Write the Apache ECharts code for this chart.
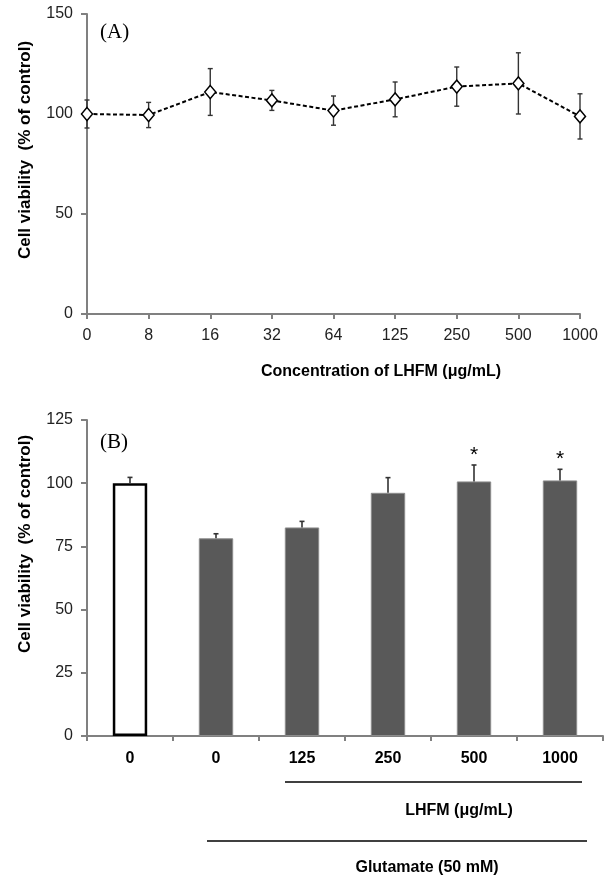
<!DOCTYPE html>
<html>
<head>
<meta charset="utf-8">
<script src="https://cdn.jsdelivr.net/npm/echarts@6/dist/echarts.min.js"></script>
<style>
html,body{margin:0;padding:0;background:#fff;}
#chart{width:611px;height:879px;}
</style>
</head>
<body>
<div id="chart"></div>
<script>
// Panel A data
const concA = ['0', '8', '16', '32', '64', '125', '250', '500', '1000'];
const viabilityA = [100, 99.5, 111, 106.8, 101.7, 107.3, 113.7, 115.3, 98.8];
const errorA = [7, 6.3, 11.7, 5, 7.3, 8.7, 9.8, 15.3, 11.3];
const yTicksA = { min: 0, max: 150, interval: 50 };

// Panel B data
const groupsB = ['0', '0', '125', '250', '500', '1000'];
const viabilityB = [100, 78.2, 82.5, 96.2, 100.7, 101.1];
const errorB = [2.3, 1.8, 2.4, 6, 6.5, 4.4];
const signifB = ['', '', '', '', '*', '*'];
const isControlB = [true, false, false, false, false, false];
const yTicksB = { min: 0, max: 125, interval: 25 };

const FONT = '"Liberation Sans", Arial, sans-serif';
const SERIF = '"Liberation Serif", "Times New Roman", serif';
const AXIS_COLOR = '#808080';

const chart = echarts.init(document.getElementById('chart'), null, { renderer: 'canvas' });

function errBarsA(params, api) {
  const x = api.value(0), v = api.value(1), e = api.value(2);
  const hi = api.coord([x, v + e]);
  const lo = api.coord([x, v - e]);
  const w = 2.5;
  const st = { stroke: '#333', lineWidth: 1.4 };
  return {
    type: 'group',
    children: [
      { type: 'line', shape: { x1: hi[0], y1: hi[1], x2: lo[0], y2: lo[1] }, style: st },
      { type: 'line', shape: { x1: hi[0] - w, y1: hi[1], x2: hi[0] + w, y2: hi[1] }, style: st },
      { type: 'line', shape: { x1: lo[0] - w, y1: lo[1], x2: lo[0] + w, y2: lo[1] }, style: st }
    ]
  };
}

function errBarsB(params, api) {
  const x = api.value(0), v = api.value(1), e = api.value(2);
  const base = api.coord([x, v]);
  const hi = api.coord([x, v + e]);
  const w = 2.5;
  const st = { stroke: '#333', lineWidth: 1.6 };
  const children = [
    { type: 'line', shape: { x1: base[0], y1: base[1], x2: hi[0], y2: hi[1] }, style: st },
    { type: 'line', shape: { x1: hi[0] - w, y1: hi[1], x2: hi[0] + w, y2: hi[1] }, style: st }
  ];
  const s = signifB[params.dataIndex];
  if (s) {
    children.push({
      type: 'text',
      style: {
        text: s, x: hi[0], y: hi[1] - 10,
        align: 'center', verticalAlign: 'middle',
        font: '21px ' + FONT, fill: '#000'
      }
    });
  }
  return { type: 'group', children };
}

const barData = viabilityB.map((v, i) => ({
  value: v,
  itemStyle: isControlB[i]
    ? { color: '#ffffff', borderColor: '#000000', borderWidth: 2.5 }
    : { color: '#595959', borderColor: '#8c8c8c', borderWidth: 1 }
}));

const option = {
  backgroundColor: '#ffffff',
  animation: false,
  grid: [
    { left: 87, right: 31, top: 14, bottom: 565, containLabel: false },
    { left: 87, right: 8, top: 420, bottom: 143, containLabel: false }
  ],
  xAxis: [
    {
      gridIndex: 0, type: 'category', data: concA, boundaryGap: false,
      axisLine: { lineStyle: { color: AXIS_COLOR, width: 2 } },
      axisTick: { show: true, length: 5, lineStyle: { color: AXIS_COLOR, width: 2 } },
      axisLabel: { color: '#222', fontFamily: FONT, fontSize: 16, margin: 14 },
      splitLine: { show: false }
    },
    {
      gridIndex: 1, type: 'category', data: groupsB, boundaryGap: true,
      axisLine: { lineStyle: { color: AXIS_COLOR, width: 2 } },
      axisTick: { show: true, length: 5, alignWithLabel: false, lineStyle: { color: AXIS_COLOR, width: 2 } },
      axisLabel: { color: '#000', fontFamily: FONT, fontSize: 16, fontWeight: 'bold', margin: 15 },
      splitLine: { show: false }
    }
  ],
  yAxis: [
    {
      gridIndex: 0, type: 'value', min: yTicksA.min, max: yTicksA.max, interval: yTicksA.interval,
      axisLine: { show: true, lineStyle: { color: AXIS_COLOR, width: 2 } },
      axisTick: { show: true, length: 6, lineStyle: { color: AXIS_COLOR, width: 2 } },
      axisLabel: { color: '#222', fontFamily: FONT, fontSize: 16, margin: 14 },
      splitLine: { show: false }
    },
    {
      gridIndex: 1, type: 'value', min: yTicksB.min, max: yTicksB.max, interval: yTicksB.interval,
      axisLine: { show: true, lineStyle: { color: AXIS_COLOR, width: 2 } },
      axisTick: { show: true, length: 6, lineStyle: { color: AXIS_COLOR, width: 2 } },
      axisLabel: { color: '#222', fontFamily: FONT, fontSize: 16, margin: 14 },
      splitLine: { show: false }
    }
  ],
  series: [
    {
      type: 'custom', xAxisIndex: 0, yAxisIndex: 0, z: 2,
      renderItem: errBarsA,
      data: viabilityA.map((v, i) => [i, v, errorA[i]])
    },
    {
      type: 'line', xAxisIndex: 0, yAxisIndex: 0, z: 3,
      data: viabilityA,
      symbol: 'diamond', symbolSize: [11, 13],
      lineStyle: { color: '#000', width: 2, type: [4, 2.5] },
      itemStyle: { color: '#ffffff', borderColor: '#000', borderWidth: 1.5 }
    },
    {
      type: 'bar', xAxisIndex: 1, yAxisIndex: 1, z: 2,
      barWidth: '40%',
      data: barData
    },
    {
      type: 'custom', xAxisIndex: 1, yAxisIndex: 1, z: 3,
      renderItem: errBarsB,
      data: viabilityB.map((v, i) => [i, v, errorB[i]])
    }
  ],
  graphic: [
    { type: 'text', left: 100, top: 22, style: { text: '(A)', font: '21px ' + SERIF, fill: '#000' } },
    { type: 'text', left: 100, top: 432, style: { text: '(B)', font: '21px ' + SERIF, fill: '#000' } },
    {
      type: 'text', x: 25, y: 150, rotation: Math.PI / 2,
      style: { text: 'Cell viability  (% of control)', font: 'bold 17px ' + FONT, fill: '#000', align: 'center', verticalAlign: 'middle' }
    },
    {
      type: 'text', x: 25, y: 544, rotation: Math.PI / 2,
      style: { text: 'Cell viability  (% of control)', font: 'bold 17px ' + FONT, fill: '#000', align: 'center', verticalAlign: 'middle' }
    },
    {
      type: 'text', x: 381, y: 372,
      style: { text: 'Concentration of LHFM (\u03bcg/mL)', font: 'bold 16px ' + FONT, fill: '#000', align: 'center', verticalAlign: 'middle' }
    },
    { type: 'line', shape: { x1: 285, y1: 782, x2: 582, y2: 782 }, style: { stroke: '#000', lineWidth: 1.5 } },
    {
      type: 'text', x: 459, y: 811,
      style: { text: 'LHFM (\u03bcg/mL)', font: 'bold 16px ' + FONT, fill: '#000', align: 'center', verticalAlign: 'middle' }
    },
    { type: 'line', shape: { x1: 207, y1: 841, x2: 587, y2: 841 }, style: { stroke: '#000', lineWidth: 1.5 } },
    {
      type: 'text', x: 427, y: 868,
      style: { text: 'Glutamate (50 mM)', font: 'bold 16px ' + FONT, fill: '#000', align: 'center', verticalAlign: 'middle' }
    }
  ]
};

chart.setOption(option);
</script>
</body>
</html>
